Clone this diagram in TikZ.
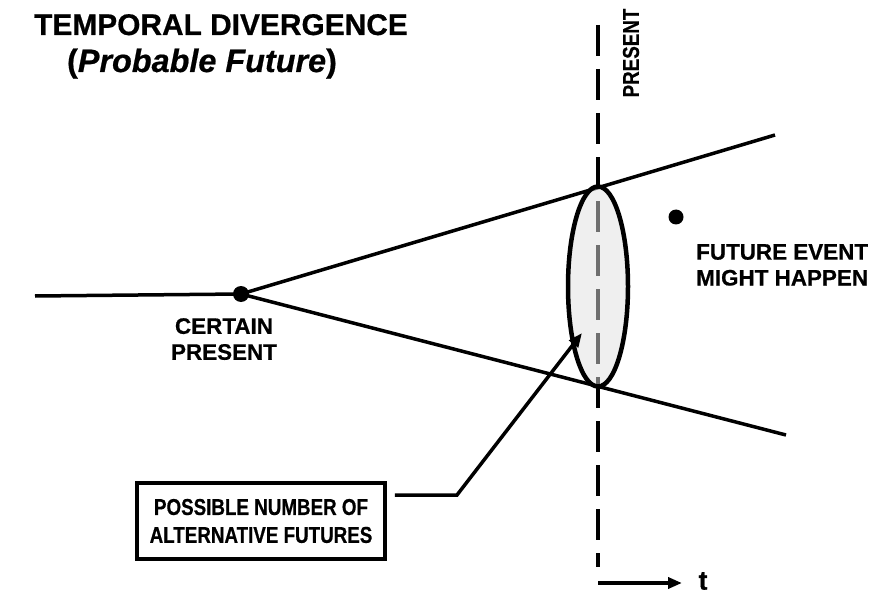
\documentclass[tikz,border=0pt]{standalone}
\usepackage{fontspec}
\setmainfont[BoldFeatures={FakeBold=0.6},BoldItalicFeatures={FakeBold=0.6}]{Liberation Sans}
\newfontfamily\narrowsans[FakeStretch=0.82,BoldFeatures={FakeBold=0.6}]{Liberation Sans}
\usetikzlibrary{arrows.meta,shadows,shapes.geometric}
\begin{document}
\begin{tikzpicture}[x=1bp,y=-1bp,
  lbl/.style={font=\bfseries\fontsize{22.5}{26}\selectfont, inner sep=0pt},
  narrowlbl/.style={font=\narrowsans\bfseries\fontsize{23}{28}\selectfont, inner sep=0pt},
  heavy/.style={line width=3.5bp},
  dot/.style={circle, fill=black, inner sep=0pt, minimum size=16bp},
  nowline/.style={line width=3.5bp, dash pattern=on 31bp off 13bp},
  tipped/.style={heavy, -{Triangle[length=14bp,width=11bp]}},
  labelbox/.style={narrowlbl, draw, line width=3.5bp, fill=white, align=center,
    minimum width=248bp, minimum height=76bp,
    drop shadow={shadow xshift=2bp, shadow yshift=-2bp, fill=gray!55, opacity=1}}
]
\useasboundingbox (0,0) rectangle (873,599);

% the "present" time axis
\coordinate (ptop) at (598,25);
\coordinate (pbot) at (598,567);
\draw[nowline] (ptop) -- (pbot);
\node[narrowlbl, rotate=90] (nowlabel) at (631,53) {PRESENT};

% cone of probable futures
\coordinate (past) at (35,296);
\coordinate (upper) at (775,135);
\coordinate (lower) at (786,435);
\draw[heavy] (past) -- (241,294);
\draw[heavy] (241,294) -- (upper);
\draw[heavy] (241,294) -- (lower);
\node[dot] (certain) at (241,294) {};

% spread of alternative futures at the present
\node[ellipse, draw, line width=4.5bp, fill=gray!25, fill opacity=0.5,
      draw opacity=1, minimum width=60bp, minimum height=200bp, inner sep=0pt]
      (spread) at (598,286.5) {};
\coordinate (inside) at (582,333);

% future event
\node[dot, minimum size=15bp] (event) at (676,217) {};
\node[lbl, align=left, anchor=north west] (eventlabel) at (696,244)
  {FUTURE EVENT\\MIGHT HAPPEN};

\node[lbl, align=center, anchor=north] (certainlabel) at (224,318)
  {CERTAIN\\PRESENT};

% title
\node[font=\bfseries\fontsize{30}{36}\selectfont, inner sep=0pt,
      anchor=base] (title) at (221,35) {TEMPORAL DIVERGENCE};
\node[font=\bfseries\fontsize{32.5}{36}\selectfont, inner sep=0pt,
      anchor=base] (subtitle) at (202,72) {(\textit{Probable Future})};

% callout box
\node[labelbox] (box) at (261,521) {POSSIBLE NUMBER OF\\ALTERNATIVE FUTURES};
\coordinate (bend) at (457,495);
\draw[tipped] ([xshift=8bp,yshift=26bp]box.east) -- (bend) -- (inside);

% time direction
\coordinate (t0) at (598,583);
\coordinate (t1) at (682,583);
\node[font=\bfseries\fontsize{27}{30}\selectfont, inner sep=0pt] (tlabel) at (703,581) {t};
\draw[tipped] (t0) -- (t1);
\end{tikzpicture}
\end{document}
